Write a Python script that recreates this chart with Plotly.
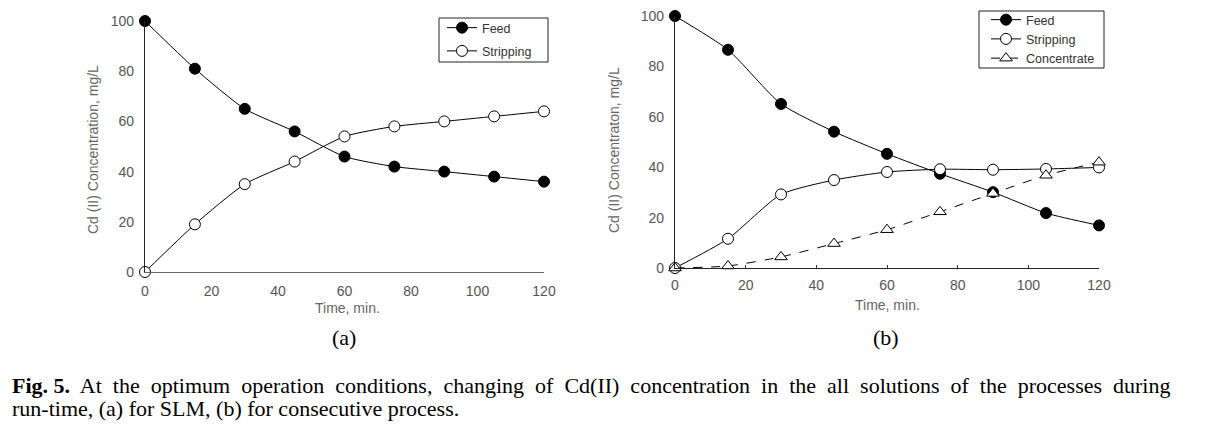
import plotly.graph_objects as go

time = [0, 15, 30, 45, 60, 75, 90, 105, 120]

# (a) SLM
feed_a = [100, 81, 65, 56, 46, 42, 40, 38, 36]
strip_a = [0, 19, 35, 44, 54, 58, 60, 62, 64]

# (b) consecutive process
feed_b = [100, 86.6, 65.1, 54.1, 45.3, 37.4, 30.1, 21.8, 16.9]
strip_b = [0, 11.6, 29.2, 34.9, 38.1, 39.2, 39.0, 39.3, 39.9]
conc_b = [0, 0.8, 4.4, 9.7, 15.2, 22.3, 29.6, 36.8, 42.0]

yticks = [0, 20, 40, 60, 80, 100]
xticks = [0, 20, 40, 60, 80, 100, 120]

W, H = 1210, 429
def px(x): return x / W
def py(y): return 1 - y / H

fig = go.Figure()

filled = dict(symbol="circle", size=11, color="black", line=dict(color="black", width=1))
hollow = dict(symbol="circle", size=11, color="white", line=dict(color="black", width=1))
tri = dict(symbol="triangle-up", size=11, color="white", line=dict(color="black", width=1))

def line(dash="solid"):
    return dict(color="black", width=1, dash=dash, shape="spline", smoothing=0.6)

fig.add_trace(go.Scatter(x=time, y=feed_a, name="Feed", mode="lines+markers", line=line(),
                         marker=filled, xaxis="x", yaxis="y", legend="legend",
                         legendgroup="a1", cliponaxis=False))
fig.add_trace(go.Scatter(x=time, y=strip_a, name="Stripping", mode="lines+markers", line=line(),
                         marker=hollow, xaxis="x", yaxis="y", legend="legend",
                         legendgroup="a2", cliponaxis=False))

fig.add_trace(go.Scatter(x=time, y=feed_b, name="Feed", mode="lines+markers", line=line(),
                         marker=filled, xaxis="x2", yaxis="y2", legend="legend2", cliponaxis=False))
fig.add_trace(go.Scatter(x=time, y=strip_b, name="Stripping", mode="lines+markers", line=line(),
                         marker=hollow, xaxis="x2", yaxis="y2", legend="legend2", cliponaxis=False))
fig.add_trace(go.Scatter(x=time, y=conc_b, name="Concentrate", mode="lines+markers",
                         line=line("dash"), marker=tri, xaxis="x2", yaxis="y2",
                         legend="legend2", cliponaxis=False))

sans = "Liberation Sans, Arial"
tickfont = dict(family=sans, size=14, color="#555555")
titlefont = dict(family=sans, size=14, color="#666666")

def axis(linecolor, ticks="", standoff=6):
    return dict(showgrid=False, zeroline=False, showline=True, linecolor=linecolor,
                linewidth=1.2, ticks=ticks, ticklen=3, tickcolor="#333333",
                tickfont=tickfont, fixedrange=True, ticklabelstandoff=standoff,
                automargin=False)

legfont = dict(family=sans, size=12.5, color="#333333")

fig.update_layout(
    width=W, height=H, autosize=False,
    margin=dict(l=0, r=0, t=0, b=0, pad=0, autoexpand=False),
    paper_bgcolor="white", plot_bgcolor="white",
    xaxis=dict(domain=[px(145), px(544)], range=[0, 120], tickvals=xticks, anchor="y",
               **axis("#666666", standoff=6)),
    yaxis=dict(domain=[py(272), py(21)], range=[0, 100], tickvals=yticks, anchor="x",
               **axis("#222222", standoff=7)),
    xaxis2=dict(domain=[px(675), px(1099)], range=[0, 120], tickvals=xticks, anchor="y2",
                **axis("#222222", ticks="inside", standoff=4)),
    yaxis2=dict(domain=[py(268), py(16)], range=[0, 100], tickvals=yticks, anchor="x2",
                **axis("#222222", standoff=7)),
    legend=dict(x=px(442), y=py(13), xanchor="left", yanchor="top",
                borderwidth=0, bgcolor="rgba(0,0,0,0)",
                font=legfont, itemwidth=30, tracegroupgap=4, traceorder="grouped"),
    legend2=dict(x=px(986), y=py(5), xanchor="left", yanchor="top",
                 borderwidth=0, bgcolor="rgba(0,0,0,0)",
                 font=legfont, itemwidth=30),
    showlegend=True,
    shapes=[
        dict(type="rect", xref="paper", yref="paper", x0=px(439), x1=px(548),
             y0=py(62), y1=py(18), line=dict(color="#222222", width=1),
             fillcolor="white", layer="below"),
        dict(type="rect", xref="paper", yref="paper", x0=px(979), x1=px(1104),
             y0=py(68), y1=py(11), line=dict(color="#222222", width=1),
             fillcolor="white", layer="below"),
    ],
)

def note(x, y, text, font, xanchor="center", **kw):
    return dict(x=px(x), y=py(y), text=text, showarrow=False, font=font,
                xref="paper", yref="paper", xanchor=xanchor, yanchor="middle", **kw)

ann = []
ann.append(note(93, 150, "Cd (II) Concentration, mg/L", titlefont, textangle=-90))
ann.append(note(614, 150, "Cd (II) Concentraton, mg/L", titlefont, textangle=-90))
ann.append(note(347, 308, "Time, min.", titlefont))
ann.append(note(887, 305, "Time, min.", titlefont))

serif = "Liberation Serif, Times New Roman"
capfont = dict(family=serif, size=22, color="black")
ann.append(note(344, 337, "(a)", capfont))
ann.append(note(886, 337, "(b)", capfont))

cap1 = ("<b>Fig. 5.</b> At the optimum operation conditions, changing of Cd(II) concentration "
        "in the all solutions of the processes during")
cap1 = cap1.replace(" ", "\u00a0 ").replace("<b>Fig.\u00a0 5.</b>", "<b>Fig. 5.</b>")
cap2 = "run-time, (a) for SLM, (b) for consecutive process."
ann.append(note(10, 385, cap1, capfont, xanchor="left"))
ann.append(note(10, 408, cap2, capfont, xanchor="left"))
fig.update_layout(annotations=ann)

fig.write_html("out.html", config={"displayModeBar": False},
               post_script="document.body.style.margin='0';document.body.style.overflow='hidden';")
